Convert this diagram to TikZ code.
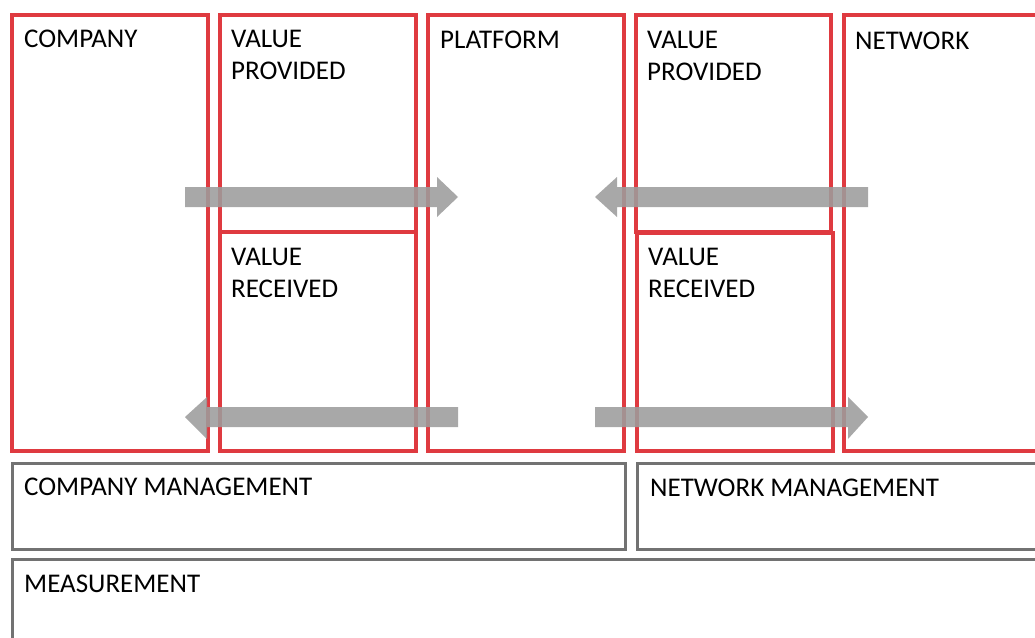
\documentclass[tikz,border=0pt]{standalone}
\usepackage{fontspec}
\setmainfont{Carlito}
\definecolor{boxred}{HTML}{DF3A40}
\definecolor{boxgray}{HTML}{727272}
\definecolor{arrowgray}{HTML}{9C9C9C}
\begin{document}
\begin{tikzpicture}[x=1pt,y=-1pt,
  redbox/.style={draw=boxred,line width=3.2pt,inner sep=0pt,outer sep=0pt,anchor=north west},
  graybox/.style={draw=boxgray,line width=3pt,inner sep=0pt,outer sep=0pt,anchor=north west},
  lbl/.style={anchor=north west,inner sep=0pt,align=left,font=\fontsize{27}{32}\selectfont,text=black},
  flowarrow/.style={fill=arrowgray,fill opacity=0.88,draw=none}]
\useasboundingbox (0,0) rectangle (1035,637);
% top red columns
\node[redbox,minimum width=196pt,minimum height=436pt] (company) at (12,15) {};
\node[redbox,minimum width=196pt,minimum height=217pt] (vp1) at (220,15) {};
\node[redbox,minimum width=196pt,minimum height=219pt] (vr1) at (220,232) {};
\node[redbox,minimum width=196pt,minimum height=436pt] (platform) at (428,15) {};
\node[redbox,minimum width=195pt,minimum height=217pt] (vp2) at (636,15) {};
\node[redbox,minimum width=196pt,minimum height=218pt] (vr2) at (637,233) {};
\node[redbox,minimum width=210pt,minimum height=436pt] (network) at (844,15) {};
% gray boxes
\node[graybox,minimum width=613pt,minimum height=86pt] (cmgmt) at (12,463) {};
\node[graybox,minimum width=420pt,minimum height=86pt] (nmgmt) at (637,463) {};
\node[graybox,minimum width=1050pt,minimum height=100pt] (meas) at (12,559) {};
% labels
\node[lbl] (tcompany) at (24,30) {COMPANY};
\node[lbl] (tvp1) at (231,30) {VALUE\\PROVIDED};
\node[lbl] (tvr1) at (231,248) {VALUE\\RECEIVED};
\node[lbl] (tplatform) at (440,31) {PLATFORM};
\node[lbl] (tvp2) at (647,31) {VALUE\\PROVIDED};
\node[lbl] (tvr2) at (648,248) {VALUE\\RECEIVED};
\node[lbl] (tnetwork) at (855,32) {NETWORK};
\node[lbl] (tcmgmt) at (24,478) {COMPANY MANAGEMENT};
\node[lbl] (tnmgmt) at (650,479) {NETWORK MANAGEMENT};
\node[lbl] (tmeas) at (24,575) {MEASUREMENT};
% arrows
\coordinate (a1s) at (185,197); \coordinate (a1t) at (458,197);
\coordinate (a2s) at (868,197); \coordinate (a2t) at (595,197);
\coordinate (a3s) at (458,417); \coordinate (a3t) at (185,417);
\coordinate (a4s) at (595,417); \coordinate (a4t) at (868,417);
\fill[flowarrow] ([yshift=-10]a1s) -- ([xshift=-21,yshift=-10]a1t) -- ([xshift=-21,yshift=-20]a1t) -- (a1t) -- ([xshift=-21,yshift=20]a1t) -- ([xshift=-21,yshift=10]a1t) -- ([yshift=10]a1s) -- cycle;
\fill[flowarrow] ([yshift=-10]a2s) -- ([xshift=22,yshift=-10]a2t) -- ([xshift=22,yshift=-20]a2t) -- (a2t) -- ([xshift=22,yshift=20]a2t) -- ([xshift=22,yshift=10]a2t) -- ([yshift=10]a2s) -- cycle;
\fill[flowarrow] ([yshift=-10]a3s) -- ([xshift=22,yshift=-10]a3t) -- ([xshift=22,yshift=-22]a3t) -- (a3t) -- ([xshift=22,yshift=20]a3t) -- ([xshift=22,yshift=10]a3t) -- ([yshift=10]a3s) -- cycle;
\fill[flowarrow] ([yshift=-10]a4s) -- ([xshift=-20,yshift=-10]a4t) -- ([xshift=-20,yshift=-22]a4t) -- (a4t) -- ([xshift=-20,yshift=20]a4t) -- ([xshift=-20,yshift=10]a4t) -- ([yshift=10]a4s) -- cycle;
\end{tikzpicture}
\end{document}
